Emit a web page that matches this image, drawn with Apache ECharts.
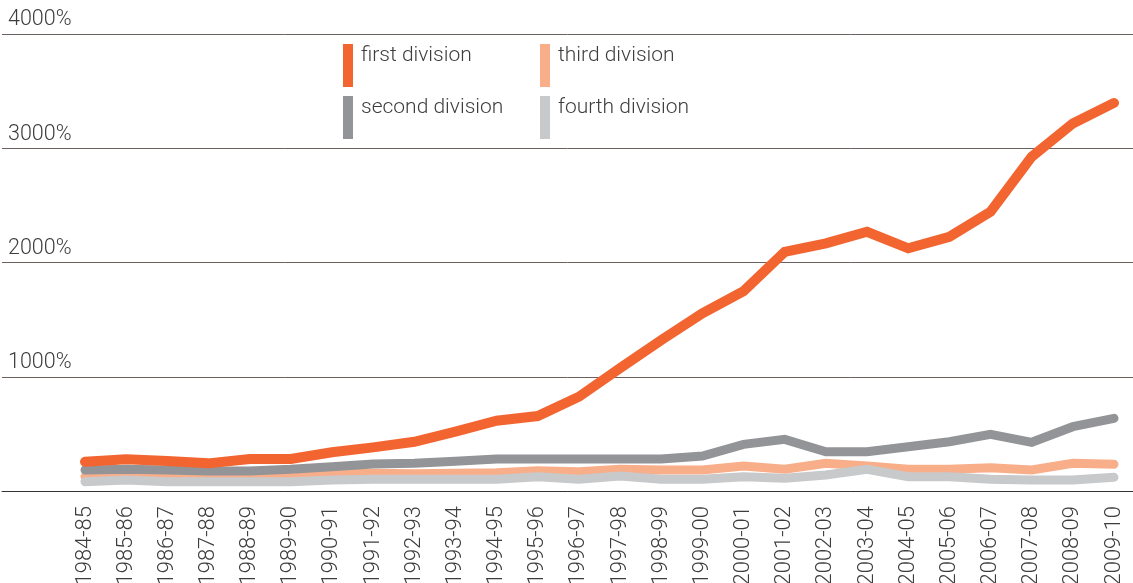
<!DOCTYPE html>
<html>
<head>
<meta charset="utf-8">
<script src="https://cdn.jsdelivr.net/npm/echarts@6/dist/echarts.min.js"></script>
<style>
  html, body { margin: 0; padding: 0; background: #fff; }
  #chart { width: 1133px; height: 583px; }
</style>
</head>
<body>
<div id="chart"></div>
<script>
// Seasons on the category axis
const seasons = ['1984-85', '1985-86', '1986-87', '1987-88', '1988-89', '1989-90', '1990-91',
  '1991-92', '1992-93', '1993-94', '1994-95', '1995-96', '1996-97', '1997-98', '1998-99',
  '1999-00', '2000-01', '2001-02', '2002-03', '2003-04', '2004-05', '2005-06', '2006-07',
  '2007-08', '2008-09', '2009-10'];

// Growth per division, in percent
const firstDivision = [256, 277, 262, 242, 280, 280, 339, 382, 431, 519, 615, 656, 825, 1075,
  1321, 1555, 1750, 2094, 2167, 2269, 2124, 2225, 2444, 2925, 3217, 3397];
const secondDivision = [184, 190, 184, 175, 175, 190, 213, 236, 242, 260, 280, 280, 280, 280,
  280, 306, 408, 452, 344, 344, 388, 431, 496, 426, 563, 636];
const thirdDivision = [125, 149, 145, 140, 140, 140, 149, 155, 151, 155, 160, 178, 169, 190,
  184, 184, 219, 190, 242, 219, 190, 190, 204, 184, 242, 234];
const fourthDivision = [82, 96, 82, 82, 82, 82, 96, 102, 102, 102, 102, 125, 102, 131, 102,
  102, 125, 111, 140, 190, 125, 125, 102, 96, 96, 120];

// Value axis ticks
const yMax = 4000;
const yStep = 1000;

const FONT = 'Roboto, "Liberation Sans", sans-serif';
const TEXT = '#3d3d3d';

const COLORS = {
  first: '#f26531',
  second: '#939497',
  third: '#f9ae8a',
  fourth: '#c8c9cb'
};

// One legend block per division: a tall colour bar with its name set against the bar's top
function legendAt(name, left, top) {
  return {
    data: [name],
    left: left,
    top: top,
    orient: 'vertical',
    padding: 0,
    icon: 'rect',
    itemWidth: 10,
    itemHeight: 43,
    selectedMode: false,
    formatter: n => '{t|' + n + '}',
    textStyle: {
      rich: {
        t: {
          fontFamily: FONT,
          fontWeight: 300,
          fontSize: 21,
          color: TEXT,
          padding: [0, 0, 20, 3]
        }
      }
    }
  };
}

const chart = echarts.init(document.getElementById('chart'), null, { renderer: 'canvas' });

chart.setOption({
  animation: false,
  backgroundColor: '#fff',
  legend: [
    legendAt('first division', 343, 44),
    legendAt('second division', 343, 96),
    legendAt('third division', 540, 44),
    legendAt('fourth division', 540, 96)
  ],
  grid: [
    // full-width frame carrying the gridlines and percent labels
    { left: 2, right: 0, top: 34, bottom: 92, containLabel: false, outerBoundsMode: 'none' },
    // plotting area for the seasons
    { left: 85, right: 19, top: 34, bottom: 92, containLabel: false, outerBoundsMode: 'none' }
  ],
  xAxis: [
    {
      gridIndex: 0,
      type: 'value',
      min: 0,
      max: 1,
      axisLine: { show: true, lineStyle: { color: '#333', width: 1 } },
      axisTick: { show: false },
      axisLabel: { show: false },
      splitLine: { show: false }
    },
    {
      gridIndex: 1,
      type: 'category',
      data: seasons,
      boundaryGap: false,
      axisLine: { show: false },
      axisTick: { show: false },
      axisLabel: {
        rotate: 90,
        margin: 15,
        interval: 0,
        fontFamily: FONT,
        fontWeight: 300,
        fontSize: 22,
        color: TEXT
      },
      splitLine: { show: false }
    }
  ],
  yAxis: [
    {
      gridIndex: 0,
      type: 'value',
      min: 0,
      max: yMax,
      interval: yStep,
      axisLine: { show: false },
      axisTick: { show: false },
      axisLabel: {
        inside: true,
        margin: 6,
        showMinLabel: false,
        verticalAlign: 'bottom',
        padding: [0, 0, 3, 0],
        fontFamily: FONT,
        fontWeight: 300,
        fontSize: 21.5,
        color: TEXT,
        formatter: v => v + '%'
      },
      splitLine: { show: true, lineStyle: { color: '#6b625f', width: 1 } }
    },
    {
      gridIndex: 1,
      type: 'value',
      min: 0,
      max: yMax,
      interval: yStep,
      show: false
    }
  ],
  series: [
    {
      name: 'third division', type: 'line', xAxisIndex: 1, yAxisIndex: 1,
      data: thirdDivision, symbol: 'none', color: COLORS.third,
      lineStyle: { width: 9, cap: 'round', join: 'miter', color: COLORS.third }
    },
    {
      name: 'fourth division', type: 'line', xAxisIndex: 1, yAxisIndex: 1,
      data: fourthDivision, symbol: 'none', color: COLORS.fourth,
      lineStyle: { width: 9, cap: 'round', join: 'miter', color: COLORS.fourth }
    },
    {
      name: 'second division', type: 'line', xAxisIndex: 1, yAxisIndex: 1,
      data: secondDivision, symbol: 'none', color: COLORS.second,
      lineStyle: { width: 9, cap: 'round', join: 'miter', color: COLORS.second }
    },
    {
      name: 'first division', type: 'line', xAxisIndex: 1, yAxisIndex: 1,
      data: firstDivision, symbol: 'none', color: COLORS.first,
      lineStyle: { width: 10, cap: 'round', join: 'miter', color: COLORS.first }
    }
  ]
});
</script>
</body>
</html>
